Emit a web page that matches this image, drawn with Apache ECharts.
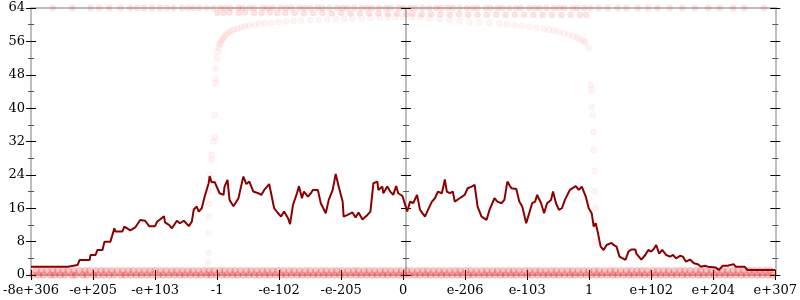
<!DOCTYPE html>
<html><head><meta charset="utf-8">
<script src="https://cdn.jsdelivr.net/npm/echarts@6/dist/echarts.min.js"></script>
<style>html,body{margin:0;padding:0;background:#fff}#c{width:800px;height:300px}</style>
</head><body><div id="c"></div>
<script>
// x axis tick labels (13 ticks, positions 0..12)
var xTickLabels = ['-8e+306','-e+205','-e+103','-1','-e-102','-e-205','0','e-206','e-103','1','e+102','e+204','e+307'];
var yTicks = {min:0, max:64, interval:8};

// line: [position, value]
var lineData = [
[0,2.0],[0.592,2.0],[0.6,2.4],[0.752,2.4],[0.784,3.6],[0.944,3.6],[0.96,4.8],[1.04,4.8],[1.072,6.0],[1.152,6.0],
[1.184,8.0],[1.28,8.0],[1.344,11.2],[1.36,10.4],[1.472,10.4],[1.504,11.6],[1.6,10.7],[1.68,11.4],[1.76,13.2],[1.84,13.0],
[1.904,11.7],[2.0,11.7],[2.032,12.8],[2.08,13.3],[2.144,14.1],[2.16,12.6],[2.224,12.0],[2.272,11.2],[2.352,13.0],[2.4,12.4],
[2.464,13.0],[2.544,11.7],[2.592,12.8],[2.624,15.7],[2.672,16.4],[2.704,15.2],[2.752,16.0],[2.8,18.8],[2.864,22.0],[2.88,23.7],
[2.912,22.2],[2.96,22.3],[2.992,22.0],[3.04,19.6],[3.104,19.2],[3.12,21.2],[3.168,22.8],[3.2,18.0],[3.264,16.5],[3.344,18.4],
[3.392,21.6],[3.424,23.6],[3.472,21.8],[3.52,22.4],[3.584,20.0],[3.664,19.6],[3.712,19.2],[3.76,20.4],[3.84,21.8],[3.92,16.0],
[3.984,14.8],[4.032,14.0],[4.08,15.2],[4.144,13.6],[4.176,12.2],[4.224,16.8],[4.288,19.6],[4.32,21.3],[4.368,18.4],[4.4,20.0],
[4.464,18.8],[4.512,19.6],[4.544,20.4],[4.624,20.4],[4.672,17.2],[4.752,14.8],[4.8,18.0],[4.864,20.4],[4.912,24.2],[4.96,21.2],
[5.024,17.6],[5.04,14.0],[5.104,14.4],[5.184,15.0],[5.232,13.8],[5.28,15.0],[5.344,13.3],[5.424,14.4],[5.472,15.2],[5.52,22.0],
[5.584,22.4],[5.6,20.4],[5.664,21.2],[5.68,19.6],[5.744,21.2],[5.792,20.0],[5.84,19.2],[5.888,21.3],[5.92,19.6],[5.984,19.0],
[6.0,18.4],[6.064,15.2],[6.112,17.6],[6.16,17.2],[6.224,19.2],[6.272,15.6],[6.352,14.0],[6.4,15.6],[6.464,17.6],[6.512,18.4],
[6.56,20.0],[6.624,19.6],[6.672,22.9],[6.704,20.0],[6.752,19.6],[6.8,20.0],[6.832,17.6],[6.912,18.4],[6.992,19.2],[7.04,20.8],
[7.104,21.2],[7.152,21.6],[7.2,16.4],[7.264,14.0],[7.344,13.2],[7.392,15.6],[7.472,18.4],[7.52,17.6],[7.584,17.2],[7.632,18.0],
[7.68,22.4],[7.744,20.8],[7.824,20.6],[7.872,17.6],[7.92,16.4],[7.984,12.4],[8.032,14.8],[8.08,17.2],[8.128,17.6],[8.16,19.2],
[8.224,17.2],[8.272,14.8],[8.32,17.2],[8.384,18.0],[8.416,20.0],[8.464,17.2],[8.512,15.6],[8.56,16.0],[8.608,18.0],[8.64,17.6],
[8.688,20.4],[8.72,20.6],[8.784,21.3],[8.832,20.4],[8.88,21.2],[8.944,18.8],[8.992,16.0],[9.04,14.8],[9.072,11.6],[9.104,12.4],
[9.136,10.4],[9.184,6.8],[9.232,6.0],[9.28,7.2],[9.36,7.7],[9.392,7.2],[9.44,6.8],[9.488,4.4],[9.52,4.4],[9.584,3.6],
[9.632,5.6],[9.68,6.1],[9.744,6.1],[9.76,5.1],[9.84,3.7],[9.904,4.8],[9.952,6.0],[10.0,5.6],[10.048,6.4],[10.08,7.2],
[10.128,5.1],[10.176,6.0],[10.24,4.8],[10.304,4.4],[10.352,4.8],[10.4,4.0],[10.464,4.6],[10.512,4.4],[10.56,3.2],[10.624,3.7],
[10.688,2.8],[10.752,2.6],[10.8,2.0],[10.864,2.2],[10.912,2.0],[11.04,1.8],[11.088,1.2],[11.152,2.2],[11.232,2.2],[11.328,2.6],
[11.36,2.0],[11.504,2.0],[11.552,1.2],[12,1.2]
];

// scatter rows
var row0X = [0.03,0.12,0.2,0.31,0.38,0.47,0.55,0.66,0.72,0.83,0.9,1.01,1.08,1.17,1.26,1.34,1.45,1.52,1.61,1.7,1.78,1.87,1.96,2.05,2.13,2.22,2.31,2.4,2.48,2.57,2.66,2.74,2.83,2.9,2.99,3.08,3.16,3.25,3.33,3.42,3.51,3.6,3.68,3.77,3.85,3.94,4.03,4.11,4.2,4.29,4.37,4.46,4.55,4.63,4.72,4.8,4.89,4.98,5.06,5.15,5.24,5.32,5.41,5.5,5.58,5.67,5.75,5.84,5.93,6.01,6.1,6.19,6.27,6.36,6.44,6.53,6.62,6.7,6.79,6.88,6.96,7.05,7.13,7.22,7.31,7.39,7.48,7.57,7.65,7.74,7.82,7.91,8.0,8.08,8.17,8.26,8.34,8.43,8.51,8.6,8.69,8.77,8.86,8.95,9.03,9.12,9.2,9.29,9.38,9.46,9.55,9.64,9.72,9.81,9.89,9.98,10.07,10.15,10.24,10.33,10.41,10.5,10.58,10.67,10.76,10.84,10.93,11.02,11.1,11.19,11.27,11.36,11.45,11.53,11.62,11.71,11.79,11.88,11.96];
var row1X = [0.08,0.17,0.26,0.35,0.43,0.52,0.6,0.69,0.78,0.87,0.95,1.04,1.13,1.21,1.3,1.39,1.48,1.57,1.65,1.74,1.83,1.92,2.0,2.09,2.18,2.27,2.35,2.44,2.53,2.61,2.7,2.79,2.87,2.95,3.04,3.12,3.21,3.29,3.38,3.47,3.55,3.64,3.73,3.81,3.9,3.98,4.07,4.16,4.24,4.33,4.42,4.5,4.59,4.68,4.76,4.85,4.93,5.02,5.11,5.2,5.28,5.37,5.45,5.54,5.63,5.71,5.8,5.89,5.97,6.06,6.14,6.23,6.32,6.4,6.49,6.58,6.66,6.75,6.84,6.92,7.01,7.09,7.18,7.27,7.35,7.44,7.52,7.61,7.7,7.78,7.87,7.96,8.04,8.13,8.21,8.3,8.39,8.47,8.56,8.65,8.73,8.82,8.91,8.99,9.08,9.16,9.25,9.34,9.42,9.51,9.6,9.68,9.77,9.85,9.94,10.03,10.11,10.2,10.28,10.37,10.46,10.54,10.63,10.72,10.8,10.89,10.97,11.06,11.15,11.23,11.32,11.4,11.49,11.58,11.66,11.75,11.84,11.92];
var row64X = [0.35,0.67,0.96,1.1,1.26,1.44,1.6,1.71,1.82,1.95,2.08,2.19,2.3,2.43,2.53,2.62,2.72,2.83,2.94,3.05,3.13,3.22,3.34,3.41,3.52,3.6,3.73,3.81,3.9,4.02,4.11,4.2,4.33,4.41,4.5,4.62,4.7,4.81,4.93,5.02,5.1,5.21,5.33,5.42,5.5,5.61,5.72,5.8,5.93,6.01,6.12,6.2,6.31,6.42,6.53,6.61,6.72,6.8,6.91,7.03,7.12,7.2,7.33,7.41,7.52,7.6,7.71,7.82,7.9,8.03,8.12,8.2,8.31,8.43,8.52,8.6,8.73,8.81,8.92,9.02,9.15,9.3,9.46,9.6,9.78,9.95,10.1,10.3,10.5,10.7,10.92,11.1,11.32,11.5,11.82];
var row63 = [[3.0,62.8],[3.1,62.8],[3.2,62.9],[3.35,62.8],[3.45,62.9],[3.6,62.8],[3.72,62.8],[3.85,62.9],[3.97,62.8],[4.1,62.8],[4.25,62.8],[4.4,62.7],[4.55,62.8],[4.7,62.8],[4.85,62.7],[5.0,62.8],[5.15,62.7],[5.3,62.7],[5.45,62.7],[5.6,62.7],[5.75,62.6],[5.9,62.6],[6.05,62.5],[6.15,62.6],[6.3,62.5],[6.45,62.5],[6.6,62.5],[6.75,62.4],[6.9,62.5],[7.05,62.4],[7.2,62.4],[7.35,62.4],[7.5,62.4],[7.65,62.3],[7.8,62.4],[7.95,62.3],[8.1,62.3],[8.25,62.3],[8.4,62.3],[8.55,62.3],[8.7,62.3],[8.85,62.3],[8.95,62.3]];
var curvePts = [[2.85,3],[2.864,5.3],[2.86,10],[2.864,14],[2.87,17],[2.88,20],[2.88,24],[2.91,27.6],[2.91,28.8],[2.944,32],[2.96,33],[2.96,38.4],[2.97,46],[2.976,47],[2.976,49.5],[2.99,52],
[3.008,53.5],[3.024,54.5],[3.04,55.2],[3.056,55.7],[3.072,56.2],[3.088,56.6],[3.11,57],[3.136,57.5],[3.17,57.9],[3.2,58.3],[3.24,58.6],[3.28,58.9],[3.33,59.1],[3.392,59.4],[3.45,59.6],[3.52,59.8],[3.6,60],[3.68,60.2],[3.77,60.35],[3.872,60.5],[3.99,60.65],[4.112,60.8],[4.23,60.9],[4.352,61],[4.5,61.1],[4.64,61.2],[4.78,61.3],[4.912,61.4],[5.05,61.45],[5.184,61.5],[5.33,61.55],[5.472,61.6],[5.62,61.7],[5.76,61.8],[5.88,61.85],[6.0,61.9],
[6.14,61.8],[6.272,61.7],[6.43,61.5],[6.592,61.3],[6.75,61.1],[6.912,60.9],[7.07,60.7],[7.232,60.5],[7.39,60.35],[7.552,60.2],[7.67,60.05],[7.792,59.9],[7.91,59.7],[8.032,59.5],[8.15,59.25],[8.272,59.0],[8.352,58.8],[8.432,58.6],[8.51,58.3],[8.592,58.0],[8.672,57.6],[8.752,57.2],[8.81,56.9],[8.864,56.5],[8.91,56.1],[8.944,55.8],[8.99,54.4],
[9.024,45.5],[9.04,44.3],[9.04,40.3],[9.056,38.4],[9.072,34.3],[9.072,30],[9.088,25],[9.088,20],[9.1,16],[9.104,12],[9.104,8]];

var faint = {color:'rgba(255,60,60,0.07)', borderColor:'rgba(255,40,40,0.06)', borderWidth:1};
var band = {color:'rgba(235,20,20,0.30)', borderColor:'rgba(235,20,20,0.10)', borderWidth:1};
var topStyle = {color:'rgba(240,30,30,0.16)', borderColor:'rgba(240,30,30,0.06)', borderWidth:1};
function rowPts(xs, v){ return xs.map(function(x){return [x, v];}); }

var font = {fontFamily:'DejaVu Serif', fontSize:13, color:'#000'};
var gray = '#bdbdbd';
function yAx(opts){
  var base = {type:'value', min:yTicks.min, max:yTicks.max, interval:yTicks.interval, splitLine:{show:false},
    axisLine:{show:true, lineStyle:{color:gray, width:2}},
    axisTick:{show:true, length:5, lineStyle:{color:'#000', width:1}},
    minorTick:{show:true, splitNumber:2, length:3, lineStyle:{color:'#555', width:1}},
    axisLabel:{show:false}};
  for (var k in opts) base[k] = opts[k];
  return base;
}
var inTick = {show:true, inside:true, length:5, lineStyle:{color:'#000'}};
var inMinor = {show:true, splitNumber:2, length:3, lineStyle:{color:'#555'}};
var chart = echarts.init(document.getElementById('c'), null, {renderer:'canvas'});
chart.setOption({
  animation:false,
  grid:{left:28, right:22, top:8, bottom:25},
  xAxis:[
    {type:'value', position:'bottom', min:0, max:12, interval:1, splitLine:{show:false},
     axisLine:{show:true, onZero:false, lineStyle:{color:gray, width:2}},
     axisTick:{show:true, length:5, lineStyle:{color:'#000'}},
     axisLabel:Object.assign({margin:9, showMinLabel:true, showMaxLabel:true, formatter:function(v){return xTickLabels[Math.round(v)];}}, font)},
    {type:'value', position:'bottom', min:0, max:12, interval:1, splitLine:{show:false},
     axisLine:{show:false, onZero:false}, axisTick:inTick, axisLabel:{show:false}},
    {type:'value', position:'top', min:0, max:12, interval:1, splitLine:{show:false},
     axisLine:{show:true, onZero:false, lineStyle:{color:gray, width:2}}, axisTick:{show:false}, axisLabel:{show:false}}
  ],
  yAxis:[
    yAx({position:'left', axisLabel:Object.assign({show:true, margin:6}, font)}),
    yAx({position:'left', axisTick:inTick, minorTick:inMinor}),
    yAx({position:'left', offset:-375}),
    yAx({position:'left', offset:-375, axisTick:inTick, minorTick:inMinor}),
    yAx({position:'right'}),
    yAx({position:'right', axisTick:inTick, minorTick:inMinor})
  ],
  series:[
    {type:'scatter', data:rowPts(row0X, 0), symbolSize:7, itemStyle:band, clip:false, z:2},
    {type:'scatter', data:rowPts(row1X, 1), symbolSize:7, itemStyle:band, clip:false, z:2},
    {type:'scatter', data:rowPts(row64X, 64), symbolSize:6, itemStyle:topStyle, clip:false, z:2},
    {type:'scatter', data:row63, symbolSize:6, itemStyle:topStyle, clip:false, z:2},
    {type:'scatter', data:curvePts, symbolSize:6, itemStyle:faint, clip:false, z:2},
    {type:'line', data:lineData, showSymbol:false, symbol:'none', lineStyle:{color:'#8b0000', width:2}, z:5}
  ]
});
</script></body></html>
